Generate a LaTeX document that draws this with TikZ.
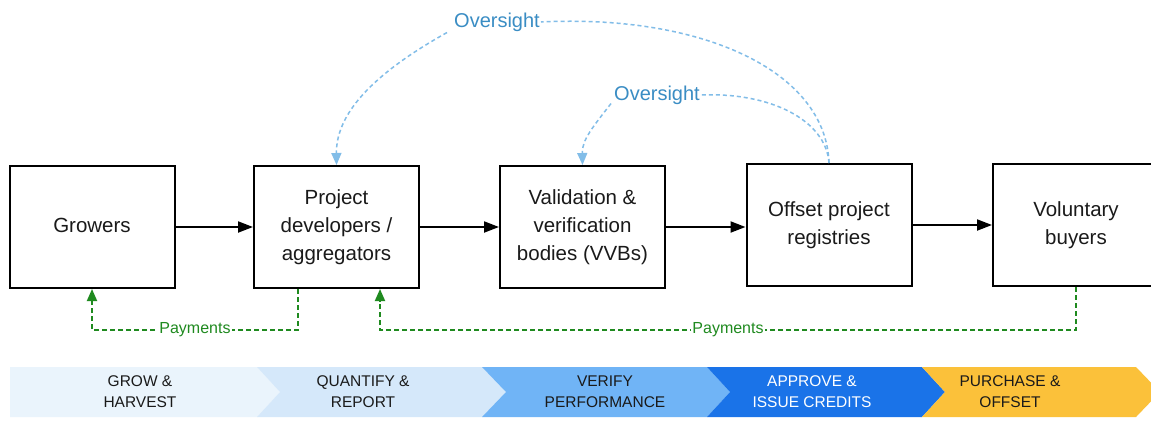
\documentclass[tikz,border=0pt]{standalone}
\usepackage{fontspec}
\setmainfont{Liberation Sans}
\usetikzlibrary{arrows.meta}
\definecolor{ovtext}{HTML}{3A8DC4}
\definecolor{ovline}{HTML}{82BDE8}
\definecolor{paygreen}{HTML}{1F8A1F}
\definecolor{ch1}{HTML}{EAF4FC}
\definecolor{ch2}{HTML}{D5E8FA}
\definecolor{ch3}{HTML}{70B4F6}
\definecolor{ch4}{HTML}{1A73E8}
\definecolor{ch5}{HTML}{FBC13A}
\definecolor{txt}{HTML}{1A1A1A}
\begin{document}
\begin{tikzpicture}[x=1pt,y=-1pt,
  box/.style={draw=black, line width=2pt, minimum width=165pt, minimum height=122pt, inner sep=0pt,
    align=center, font=\fontsize{20.5}{28}\selectfont, text=txt},
  arr/.style={line width=2pt, -{Triangle[length=15pt,width=11pt]}},
  over/.style={ovline, line width=1.5pt, dash pattern=on 4pt off 3pt},
  overarr/.style={over, -{Triangle[length=12pt,width=10pt]}},
  ovlab/.style={text=ovtext, font=\fontsize{20}{24}\selectfont, inner sep=1pt},
  pay/.style={paygreen, line width=1.8pt, dash pattern=on 5pt off 3pt},
  payarr/.style={pay, -{Triangle[length=12pt,width=10pt]}},
  paylab/.style={text=paygreen, font=\fontsize{16}{18}\selectfont, fill=white, inner sep=1pt},
  chlab/.style={align=center, font=\fontsize{15.5}{21}\selectfont, text=txt}]
\useasboundingbox (0,0) rectangle (1151,426);
\fill[white] (0,0) rectangle (1151,426);

% boxes
\node[box] (grow) at (92,227) {\raisebox{4pt}{Growers}};
\node[box] (pd) at (336.5,227) {Project\\developers /\\aggregators};
\node[box] (vvb) at (582.5,227) {Validation \&\\verification\\bodies (VVBs)};
\node[box] (off) at (829,225) {Offset project\\registries};
\node[box, minimum width=180pt] (vb) at (1083,225) {\hspace*{-14pt}Voluntary\\\hspace*{-14pt}buyers};

% main arrows
\draw[arr] (grow.east) -- (pd.west);
\draw[arr] (pd.east) -- (vvb.west);
\draw[arr] (vvb.east) -- (vvb.east -| off.west);
\draw[arr] (off.east) -- (vb.west);

% oversight
\node[ovlab] (o1) at (497,22) {Oversight};
\node[ovlab] (o2) at (657,95) {Oversight};
\draw[over] (off.north) .. controls (826,70) and (700,14) .. (o1.east);
\draw[overarr] ([xshift=-6pt]o1.south west) .. controls (380,70) and (336,110) .. (pd.north);
\draw[over] (off.north) .. controls (826,120) and (770,92) .. (o2.east);
\draw[overarr] ([xshift=-2pt,yshift=2pt]o2.south west) .. controls (592,128) and (582,140) .. (vvb.north);

% payments
\coordinate (p1) at (298,330);
\coordinate (p2) at (92,330);
\coordinate (p3) at (1076,330);
\coordinate (p4) at (380,330);
\draw[payarr] (pd.south -| p1) -- (p1) -- node[paylab]{Payments} (p2) -- (grow.south);
\draw[payarr] (vb.south -| p3) -- (p3) -- node[paylab]{Payments} (p4) -- (pd.south -| p4);

% chevron band
\fill[ch1] (10,367) -- (257,367) -- (280,392) -- (257,417) -- (10,417) -- cycle;
\fill[ch2] (257,367) -- (482,367) -- (506,392) -- (482,417) -- (257,417) -- (280,392) -- cycle;
\fill[ch3] (482,367) -- (707,367) -- (730,392) -- (707,417) -- (482,417) -- (506,392) -- cycle;
\fill[ch4] (707,367) -- (922,367) -- (945,392) -- (922,417) -- (707,417) -- (730,392) -- cycle;
\fill[ch5] (922,367) -- (1136,367) -- (1160,392) -- (1136,417) -- (922,417) -- (945,392) -- cycle;
\node[chlab] (c1) at (140,392) {GROW \&\\HARVEST};
\node[chlab] (c2) at (363,392) {QUANTIFY \&\\REPORT};
\node[chlab] (c3) at (605,392) {VERIFY\\PERFORMANCE};
\node[chlab, text=white] (c4) at (812,392) {APPROVE \&\\ISSUE CREDITS};
\node[chlab] (c5) at (1010,392) {PURCHASE \&\\OFFSET};
\end{tikzpicture}
\end{document}
